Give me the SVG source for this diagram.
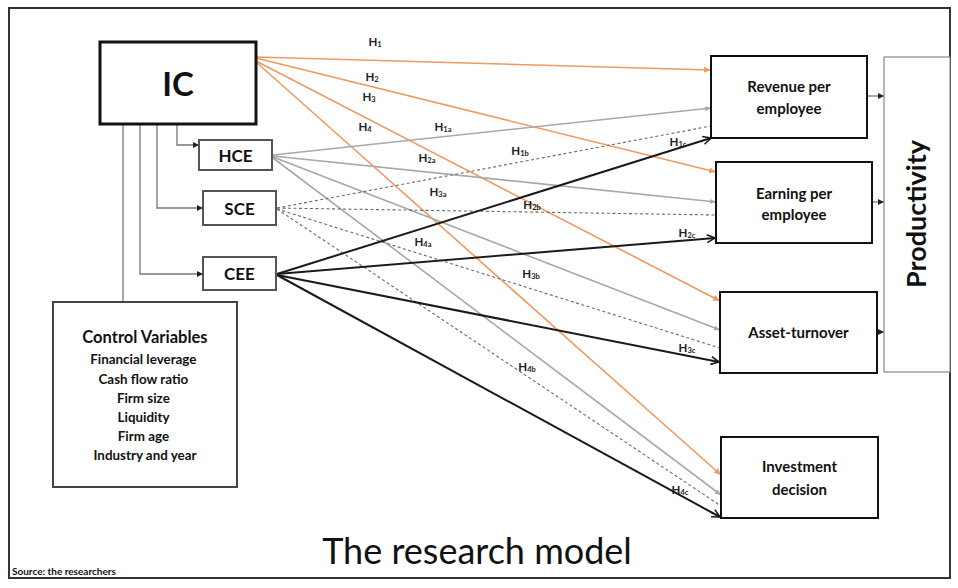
<svg xmlns="http://www.w3.org/2000/svg" width="958" height="588" viewBox="0 0 958 588">
<defs>
<style>
.f{font-family:Lato,"Open Sans","Liberation Sans",sans-serif;fill:#111}
.b{font-weight:bold}
.lab{font-family:Lato,"Open Sans","Liberation Sans",sans-serif;font-weight:bold;font-size:11.5px;fill:#222}
.sub{font-size:7.5px}
.or{stroke:#EE9A62;stroke-width:1.6;fill:none}
.gr{stroke:#A8A8A8;stroke-width:1.6;fill:none}
.da{stroke:#6a6a6a;stroke-width:1.1;stroke-dasharray:3 2.5;fill:none}
.bk{stroke:#1a1a1a;stroke-width:2;fill:none}
.tr{stroke:#777;stroke-width:1.3;fill:none}
</style>
<marker id="mB" markerUnits="userSpaceOnUse" markerWidth="12" markerHeight="12" refX="9" refY="5" orient="auto"><path d="M1,1 L9,5 L1,9" fill="none" stroke="#1a1a1a" stroke-width="1.6"/></marker>
<marker id="mO" markerUnits="userSpaceOnUse" markerWidth="10" markerHeight="10" refX="7" refY="4" orient="auto"><path d="M0,1 L7,4 L0,7 Z" fill="#EE9A62"/></marker>
<marker id="mG" markerUnits="userSpaceOnUse" markerWidth="10" markerHeight="10" refX="6" refY="3.5" orient="auto"><path d="M0,1 L6,3.5 L0,6 Z" fill="#A8A8A8"/></marker>
<marker id="mK" markerUnits="userSpaceOnUse" markerWidth="10" markerHeight="10" refX="6" refY="3.5" orient="auto"><path d="M0,0.5 L6,3.5 L0,6.5 Z" fill="#222"/></marker>
</defs>
<rect x="0" y="0" width="958" height="588" fill="#fff"/>
<rect x="9" y="8" width="941" height="570" fill="#fff" stroke="#333" stroke-width="2"/>

<g id="connectors">
<path class="tr" d="M177,124 V145 H199" marker-end="url(#mK)"/>
<path class="tr" d="M157,124 V208 H203" marker-end="url(#mK)"/>
<path class="tr" d="M140,124 V274 H203" marker-end="url(#mK)"/>
<path class="tr" d="M123,124 V302"/>
<line class="or" x1="256" y1="57" x2="711" y2="70" marker-end="url(#mO)"/>
<line class="or" x1="256" y1="58" x2="716" y2="172" marker-end="url(#mO)"/>
<line class="or" x1="256" y1="61" x2="720" y2="301" marker-end="url(#mO)"/>
<line class="or" x1="256" y1="62" x2="721" y2="475" marker-end="url(#mO)"/>
<line class="gr" x1="273" y1="155" x2="711" y2="108" marker-end="url(#mG)"/>
<line class="gr" x1="273" y1="156" x2="716" y2="202" marker-end="url(#mG)"/>
<line class="gr" x1="273" y1="157" x2="720" y2="330" marker-end="url(#mG)"/>
<line class="gr" x1="273" y1="158" x2="721" y2="495" marker-end="url(#mG)"/>
<line class="da" x1="277" y1="208" x2="711" y2="126"/>
<line class="da" x1="277" y1="208" x2="716" y2="215"/>
<line class="da" x1="277" y1="209" x2="720" y2="348"/>
<line class="da" x1="277" y1="209" x2="721" y2="506"/>
<line class="bk" x1="277" y1="274" x2="711" y2="138" marker-end="url(#mB)"/>
<line class="bk" x1="277" y1="274" x2="715" y2="238" marker-end="url(#mB)"/>
<line class="bk" x1="277" y1="275" x2="719" y2="362" marker-end="url(#mB)"/>
<line class="bk" x1="277" y1="275" x2="720" y2="517" marker-end="url(#mB)"/>
<line class="tr" x1="867" y1="96" x2="884" y2="96" stroke="#333" marker-end="url(#mK)"/>
<line class="tr" x1="872" y1="202" x2="884" y2="202" stroke="#333" marker-end="url(#mK)"/>
<line class="tr" x1="877" y1="332" x2="884" y2="332" stroke="#333" marker-end="url(#mK)"/>
</g>

<g id="labels">
<text class="lab" x="375" y="46" text-anchor="middle">H<tspan class="sub" dy="1">1</tspan></text>
<text class="lab" x="372" y="81" text-anchor="middle">H<tspan class="sub" dy="1">2</tspan></text>
<text class="lab" x="369" y="101" text-anchor="middle">H<tspan class="sub" dy="1">3</tspan></text>
<text class="lab" x="365" y="131" text-anchor="middle">H<tspan class="sub" dy="1">4</tspan></text>
<text class="lab" x="443" y="131" text-anchor="middle">H<tspan class="sub" dy="1">1a</tspan></text>
<text class="lab" x="427" y="162" text-anchor="middle">H<tspan class="sub" dy="1">2a</tspan></text>
<text class="lab" x="438" y="196" text-anchor="middle">H<tspan class="sub" dy="1">3a</tspan></text>
<text class="lab" x="423" y="246" text-anchor="middle">H<tspan class="sub" dy="1">4a</tspan></text>
<text class="lab" x="520" y="155" text-anchor="middle">H<tspan class="sub" dy="1">1b</tspan></text>
<text class="lab" x="532" y="209" text-anchor="middle">H<tspan class="sub" dy="1">2b</tspan></text>
<text class="lab" x="531" y="278" text-anchor="middle">H<tspan class="sub" dy="1">3b</tspan></text>
<text class="lab" x="527" y="371" text-anchor="middle">H<tspan class="sub" dy="1">4b</tspan></text>
<text class="lab" x="678" y="146" text-anchor="middle">H<tspan class="sub" dy="1">1c</tspan></text>
<text class="lab" x="687" y="237" text-anchor="middle">H<tspan class="sub" dy="1">2c</tspan></text>
<text class="lab" x="687" y="352" text-anchor="middle">H<tspan class="sub" dy="1">3c</tspan></text>
<text class="lab" x="680" y="494" text-anchor="middle">H<tspan class="sub" dy="1">4c</tspan></text>
</g>

<g id="IC">
<rect x="100" y="42" width="156" height="82" fill="#fff" stroke="#111" stroke-width="3"/>
<text class="f b" x="178" y="96" font-size="33" text-anchor="middle">IC</text>
</g>
<g id="HCE">
<rect x="199" y="140" width="73" height="30" fill="#fff" stroke="#555" stroke-width="2"/>
<text class="f b" x="235.5" y="162" font-size="17" text-anchor="middle">HCE</text>
</g>
<g id="SCE">
<rect x="203" y="191" width="73" height="34" fill="#fff" stroke="#555" stroke-width="2"/>
<text class="f b" x="239.5" y="215" font-size="17" text-anchor="middle">SCE</text>
</g>
<g id="CEE">
<rect x="203" y="257" width="73" height="33" fill="#fff" stroke="#555" stroke-width="2"/>
<text class="f b" x="239.5" y="280" font-size="17" text-anchor="middle">CEE</text>
</g>
<g id="control">
<rect x="53" y="302" width="184" height="185" fill="#fff" stroke="#444" stroke-width="2"/>
<text class="f b" x="145" y="343" font-size="16.5" text-anchor="middle">Control Variables</text>
<text class="f b" font-size="13.4" text-anchor="middle">
<tspan x="145" y="364">Financial leverage</tspan>
<tspan x="145" y="384">Cash flow ratio</tspan>
<tspan x="145" y="403">Firm size</tspan>
<tspan x="145" y="422">Liquidity</tspan>
<tspan x="145" y="441">Firm age</tspan>
<tspan x="145" y="460">Industry and year</tspan>
</text>
</g>
<g id="revenue">
<rect x="711" y="56" width="156" height="82" fill="#fff" stroke="#111" stroke-width="2"/>
<text class="f b" font-size="15" text-anchor="middle"><tspan x="789" y="92">Revenue per</tspan><tspan x="789" y="114">employee</tspan></text>
</g>
<g id="earning">
<rect x="716" y="162" width="156" height="81" fill="#fff" stroke="#111" stroke-width="2"/>
<text class="f b" font-size="15" text-anchor="middle"><tspan x="794" y="199">Earning per</tspan><tspan x="794" y="220">employee</tspan></text>
</g>
<g id="asset">
<rect x="720" y="292" width="157" height="81" fill="#fff" stroke="#111" stroke-width="2"/>
<text class="f b" x="798.5" y="338" font-size="15" text-anchor="middle">Asset-turnover</text>
</g>
<g id="investment">
<rect x="721" y="437" width="157" height="81" fill="#fff" stroke="#111" stroke-width="2"/>
<text class="f b" font-size="15" text-anchor="middle"><tspan x="799.5" y="472">Investment</tspan><tspan x="799.5" y="495">decision</tspan></text>
</g>
<g id="productivity">
<rect x="884" y="57" width="66" height="315" fill="#fff" stroke="#888" stroke-width="1.2"/>
<text class="f b" font-size="27" text-anchor="middle" transform="translate(926,214) rotate(-90)">Productivity</text>
</g>

<text class="f" x="477" y="564" font-size="36" text-anchor="middle">The research model</text>
<text class="f b" x="12" y="575" font-size="10">Source: the researchers</text>
</svg>
